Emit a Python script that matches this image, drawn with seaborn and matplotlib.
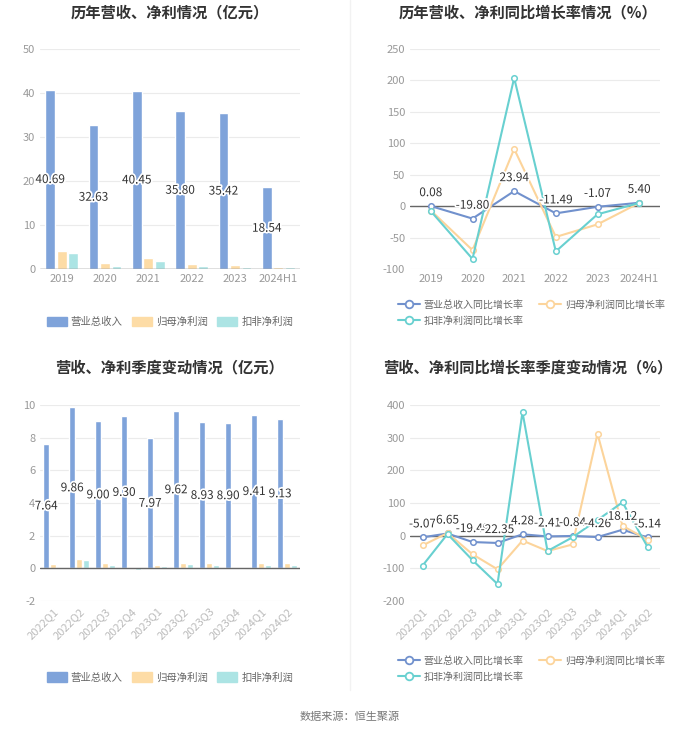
import numpy as np
import pandas as pd
import matplotlib
matplotlib.use('Agg')
import matplotlib.pyplot as plt
import matplotlib.patheffects as pe
from matplotlib.lines import Line2D
from matplotlib.patches import FancyBboxPatch
import seaborn as sns

# ---- data ----
years = ['2019', '2020', '2021', '2022', '2023', '2024H1']
rev_year = [40.69, 32.63, 40.45, 35.80, 35.42, 18.54]
np_year = [4.2, 1.3, 2.4, 1.2, 0.9, 0.5]
dnp_year = [3.7, 0.7, 1.8, 0.6, 0.5, 0.35]

rev_g_year = [0.08, -19.80, 23.94, -11.49, -1.07, 5.40]
np_g_year = [-7, -70, 91, -49, -29, 5]
dnp_g_year = [-8, -84, 204, -72, -13, 5]

quarters = ['2022Q1', '2022Q2', '2022Q3', '2022Q4', '2023Q1',
            '2023Q2', '2023Q3', '2023Q4', '2024Q1', '2024Q2']
rev_q = [7.64, 9.86, 9.00, 9.30, 7.97, 9.62, 8.93, 8.90, 9.41, 9.13]
np_q = [0.25, 0.6, 0.35, 0.02, 0.22, 0.35, 0.3, 0.05, 0.3, 0.3]
dnp_q = [0.02, 0.48, 0.2, -0.08, 0.12, 0.28, 0.2, -0.02, 0.22, 0.18]

rev_g_q = [-5.07, 6.65, -19.49, -22.35, 4.28, -2.41, -0.84, -4.26, 18.12, -5.14]
np_g_q = [-30, 8, -57, -103, -15, -47, -27, 312, 30, -12]
dnp_g_q = [-92, 5, -75, -148, 378, -47, -5, 48, 102, -34]

bar_names = ['营业总收入', '归母净利润', '扣非净利润']
line_names = ['营业总收入同比增长率', '归母净利润同比增长率', '扣非净利润同比增长率']
bar_colors = ['#7fa3da', '#fddca6', '#ace4e4']
line_colors = ['#7191cd', '#fcd49b', '#68d0d0']

sns.set_theme(style='white')
plt.rcParams['font.family'] = ['Noto Sans CJK SC', 'DejaVu Sans']
plt.rcParams['axes.unicode_minus'] = False

fig = plt.figure(figsize=(7, 7.34), dpi=100)

TICK_C = '#999999'
TXT_C = '#333333'
outline = [pe.withStroke(linewidth=2.5, foreground='white')]


def style_axes(ax, ylim, yticks, rotate=False):
    ax.set_ylim(*ylim)
    ax.set_yticks(yticks)
    ax.yaxis.grid(True, color='#ebebeb', linewidth=0.8)
    ax.set_axisbelow(True)
    for s in ax.spines.values():
        s.set_visible(False)
    ax.tick_params(axis='both', length=0, colors=TICK_C, labelsize=8)
    ax.set_xlabel('')
    ax.set_ylabel('')
    if rotate:
        for lab in ax.get_xticklabels():
            lab.set_rotation(45)
            lab.set_ha('right')
            lab.set_rotation_mode('anchor')
            lab.set_color('#bbbbbb')
    ax.axhline(0, color='#666666', linewidth=1, zorder=1)


def bar_chart(rect, cats, s1, s2, s3, ylim, yticks, rotate, leg_y):
    ax = fig.add_axes(rect)
    df = pd.DataFrame({'cat': cats, bar_names[0]: s1, bar_names[1]: s2, bar_names[2]: s3})
    long = df.melt(id_vars='cat', var_name='series', value_name='value')
    sns.barplot(data=long, x='cat', y='value', hue='series', palette=bar_colors,
                width=0.8, gap=0.16, ax=ax, legend=False, saturation=1)
    ax.set_xlim(-0.5, len(cats) - 0.5)
    style_axes(ax, ylim, yticks, rotate)
    # revenue labels at middle of the blue bars
    blue = ax.containers[0]
    for patch, v in zip(blue, s1):
        ax.text(patch.get_x() + patch.get_width() / 2, v / 2, f'{v:.2f}',
                ha='center', va='center', fontsize=8.5, color=TXT_C,
                path_effects=outline, zorder=5)
    handles = [FancyBboxPatch((0, 0), 1, 1, boxstyle='round,pad=0.1', color=c)
               for c in bar_colors]
    ax.legend(handles, bar_names, loc='center', bbox_to_anchor=(0.5, leg_y), ncol=3,
              frameon=False, fontsize=7.5, handlelength=1.9, handleheight=1.0,
              columnspacing=0.9, handletextpad=0.4, labelcolor='#666666')
    return ax


def line_chart(rect, cats, s1, s2, s3, ylim, yticks, rotate, leg_y, off):
    ax = fig.add_axes(rect)
    df = pd.DataFrame({'cat': cats, line_names[0]: s1, line_names[1]: s2, line_names[2]: s3})
    long = df.melt(id_vars='cat', var_name='series', value_name='value')
    sns.lineplot(data=long, x='cat', y='value', hue='series', palette=line_colors,
                 marker='o', markersize=4, markerfacecolor='white', markeredgewidth=1.1,
                 linewidth=1.5, sort=False, ax=ax, legend=False)
    for ln in ax.lines:
        ln.set_markeredgecolor(ln.get_color())
    ax.set_xlim(-0.5, len(cats) - 0.5)
    style_axes(ax, ylim, yticks, rotate)
    for i, v in enumerate(s1):
        ax.annotate(f'{v:.2f}', (i, v), xytext=(0, off), textcoords='offset points',
                    ha='center', va='bottom', fontsize=8.5, color=TXT_C,
                    path_effects=outline, zorder=6)
    handles = [Line2D([], [], color=c, marker='o', markersize=5.5, markerfacecolor='white',
                      markeredgewidth=1.3, linewidth=1.5) for c in line_colors]
    order = [0, 2, 1]
    ax.legend([handles[k] for k in order], [line_names[k] for k in order],
              loc='center', bbox_to_anchor=(0.485, leg_y), ncol=2, frameon=False,
              fontsize=7.2, handlelength=2.2, columnspacing=1.5, handletextpad=0.4,
              labelcolor='#666666', labelspacing=0.6)
    return ax


top_b, top_h = 1 - 269 / 734, 220 / 734
bot_b, bot_h = 1 - 601 / 734, 196 / 734

bar_chart([40 / 700, top_b, 260 / 700, top_h], years, rev_year, np_year, dnp_year,
          (0, 50), range(0, 51, 10), False, -0.241)
line_chart([410 / 700, top_b, 250 / 700, top_h], years, rev_g_year, np_g_year, dnp_g_year,
           (-100, 250), range(-100, 251, 50), False, -0.198, 5)
bar_chart([40 / 700, bot_b, 260 / 700, bot_h], quarters, rev_q, np_q, dnp_q,
          (-2, 10), range(-2, 11, 2), True, -0.39)
line_chart([410 / 700, bot_b, 250 / 700, bot_h], quarters, rev_g_q, np_g_q, dnp_g_q,
           (-200, 400), range(-200, 401, 100), True, -0.344, 5)

# titles
title_kw = dict(ha='center', va='center', fontsize=11, fontweight='bold', color='#333333')
fig.text(170 / 700, 1 - 12 / 734, '历年营收、净利情况（亿元）', **title_kw)
fig.text(528 / 700, 1 - 12 / 734, '历年营收、净利同比增长率情况（%）', **title_kw)
fig.text(170 / 700, 1 - 367 / 734, '营收、净利季度变动情况（亿元）', **title_kw)
fig.text(528 / 700, 1 - 367 / 734, '营收、净利同比增长率季度变动情况（%）', **title_kw)

# divider
fig.add_artist(Line2D([350 / 700, 350 / 700], [0.06, 1.0], color='#f2f2f2', linewidth=1))

fig.text(0.5, 1 - 717 / 734, '数据来源：恒生聚源', ha='center', va='center',
         fontsize=8, color='#777777')

fig.savefig('out.png', dpi=100, facecolor='white')
